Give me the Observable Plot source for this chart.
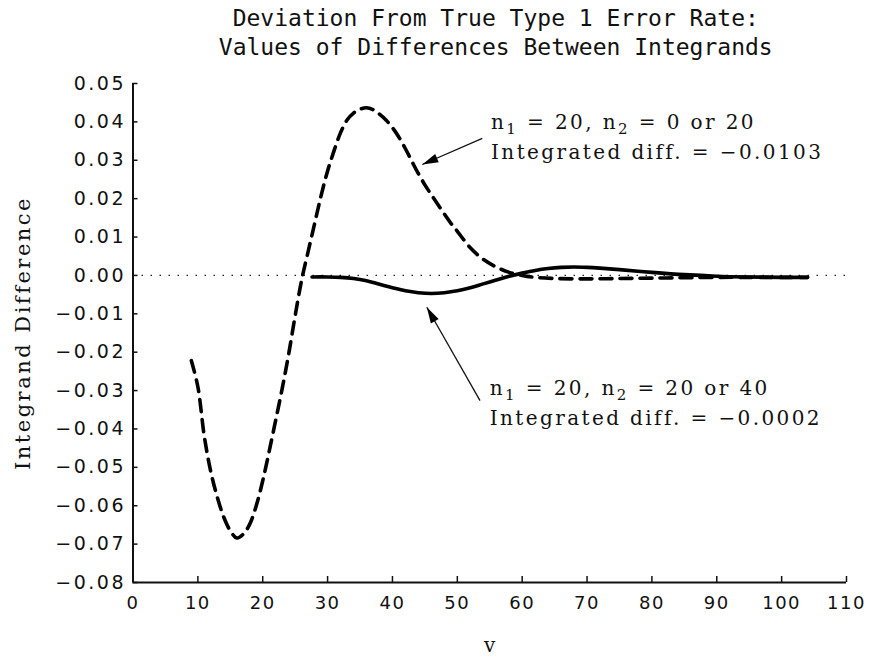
<!DOCTYPE html>
<html>
<head>
<meta charset="utf-8">
<script src="https://cdn.jsdelivr.net/npm/d3@7"></script>
<script src="https://cdn.jsdelivr.net/npm/@observablehq/plot@0.6"></script>
<style>
  html, body { margin: 0; padding: 0; background: #fff; }
</style>
</head>
<body>
<div id="chart"></div>
<script>
// ---- data ----
const titleLines = ["Deviation From True Type 1 Error Rate:", "Values of Differences Between Integrands"];
const xLabel = "v";
const yLabel = "Integrand Difference";
const xTicks = [0, 10, 20, 30, 40, 50, 60, 70, 80, 90, 100, 110];
const yTicks = [0.05, 0.04, 0.03, 0.02, 0.01, 0.00, -0.01, -0.02, -0.03, -0.04, -0.05, -0.06, -0.07, -0.08];

// n1 = 20, n2 = 0 or 20 (dashed)
const dashedV = [9, 10, 11, 12, 13, 14, 15, 16, 17, 18, 19, 20, 21, 22, 23, 24, 25, 26, 27, 28, 29, 30,
  31, 32, 33, 34, 35, 36, 37, 38, 39, 40, 41, 42, 43, 44, 45, 46, 47, 48, 49, 50, 52, 54, 56, 58, 60,
  62, 65, 70, 75, 80, 85, 90, 95, 100, 104];
const dashedY = [-0.0222, -0.0290, -0.0420, -0.0512, -0.0578, -0.0630, -0.0665, -0.0684, -0.0674, -0.0648,
  -0.0600, -0.0535, -0.0458, -0.0377, -0.0295, -0.0205, -0.0105, -0.0012, 0.0062, 0.0135, 0.0208, 0.0272,
  0.0325, 0.0372, 0.0405, 0.0423, 0.0433, 0.0437, 0.0432, 0.0420, 0.0405, 0.0385, 0.0360, 0.0330, 0.0297,
  0.0265, 0.0236, 0.0210, 0.0185, 0.0160, 0.0136, 0.0115, 0.0072, 0.0042, 0.0022, 0.0008, 0.0000,
  -0.0005, -0.0008, -0.0009, -0.0008, -0.0007, -0.0006, -0.0005, -0.0005, -0.0005, -0.0005];

// n1 = 20, n2 = 20 or 40 (solid)
const solidV = [27.6, 30, 32, 34, 36, 38, 40, 42, 44, 46, 48, 50, 52, 54, 56, 58, 60, 62, 64, 66, 68, 70,
  72, 75, 80, 85, 90, 95, 100, 104];
const solidY = [-0.0004, -0.0004, -0.0005, -0.0008, -0.0014, -0.0023, -0.0032, -0.0040, -0.0045, -0.0047,
  -0.0045, -0.0040, -0.0032, -0.0022, -0.0012, -0.0002, 0.0006, 0.0013, 0.0018, 0.0021, 0.0022, 0.0021,
  0.0019, 0.0015, 0.0008, 0.0002, -0.0002, -0.0004, -0.0005, -0.0005];

const annotText = ["n1 = 20, n2 = 0 or 20", "Integrated diff. = \u22120.0103",
                   "n1 = 20, n2 = 20 or 40", "Integrated diff. = \u22120.0002"];
const annotX = [55.2, 55.2, 55.0, 55.0];
const annotY = [0.0398, 0.0320, -0.0295, -0.0373];

const arrowX1 = [53.85, 53.5];
const arrowY1 = [0.0357, -0.0326];
const arrowX2 = [44.6, 45.3];
const arrowY2 = [0.0289, -0.0083];

// ---- layout ----
const W = 870, H = 658, mL = 132.5, mR = 24, mT = 83, mB = 76;
const xDom = [0, 110], yDom = [-0.08, 0.05];
const px = x => mL + (x - xDom[0]) / (xDom[1] - xDom[0]) * (W - mL - mR);
const py = y => mT + (yDom[1] - y) / (yDom[1] - yDom[0]) * (H - mT - mB);

const dashed = dashedV.map((v, i) => ({v, y: dashedY[i]}));
const solid = solidV.map((v, i) => ({v, y: solidY[i]}));
const annots = annotText.map((t, i) => ({t, x: annotX[i], y: annotY[i]}));
const arrows = arrowX1.map((x1, i) => {
  const dx = px(arrowX2[i]) - px(x1), dy = py(arrowY2[i]) - py(arrowY1[i]);
  return {x1, y1: arrowY1[i], x2: arrowX2[i], y2: arrowY2[i], rot: Math.atan2(dy, dx) * 180 / Math.PI + 90};
});

// narrow filled arrowhead, tip at origin pointing up
const headSymbol = {
  draw(context, size) {
    const L = 16, w = 9;
    context.moveTo(0, 0);
    context.lineTo(-w / 2, L);
    context.lineTo(w / 2, L);
    context.closePath();
  }
};

const fmtY = d => (d < 0 ? "\u2212" : "") + Math.abs(d).toFixed(2);
const sans = "DejaVu Sans, sans-serif";
const serif = "DejaVu Serif, serif";
const mono = "DejaVu Sans Mono, monospace";

const plot = Plot.plot({
  width: W, height: H,
  marginLeft: mL, marginRight: mR, marginTop: mT, marginBottom: mB,
  x: {domain: xDom},
  y: {domain: yDom},
  style: {background: "#fff", color: "#111", overflow: "visible"},
  marks: [
    // zero reference (dotted)
    Plot.ruleY([0], {x1: xDom[0], x2: xDom[1], stroke: "#222", strokeWidth: 1.3, strokeDasharray: "1.5,7.5"}),
    // axes lines
    Plot.ruleX([xDom[0]], {y1: yDom[0], y2: yDom[1], stroke: "#111", strokeWidth: 2}),
    Plot.ruleY([yDom[0]], {x1: xDom[0], x2: xDom[1], stroke: "#111", strokeWidth: 2}),
    // inward ticks
    Plot.ruleY(yTicks, {x1: xDom[0], x2: xDom[0] + 5 / ((W - mL - mR) / 110), stroke: "#111", strokeWidth: 1.5}),
    Plot.ruleX(xTicks, {y1: yDom[0], y2: yDom[0] + 6 / ((H - mT - mB) / 0.13), stroke: "#111", strokeWidth: 1.5}),
    // tick labels
    Plot.axisY(yTicks, {tickSize: 0, tickPadding: 7, tickFormat: fmtY, label: null, fontSize: 19, fontFamily: sans}),
    Plot.axisX(xTicks, {tickSize: 0, tickPadding: 14, tickFormat: d => String(d), label: null, fontSize: 18, fontFamily: sans}),
    // curves
    Plot.line(dashed, {x: "v", y: "y", stroke: "#000", strokeWidth: 3.6, strokeDasharray: "12,8", curve: "catmull-rom"}),
    Plot.line(solid, {x: "v", y: "y", stroke: "#000", strokeWidth: 3.6, curve: "catmull-rom"}),
    // annotations
    Plot.link(arrows, {x1: "x1", y1: "y1", x2: "x2", y2: "y2", stroke: "#111", strokeWidth: 1.3}),
    Plot.dot(arrows, {x: "x2", y: "y2", rotate: "rot", symbol: headSymbol, fill: "#000", stroke: "none", r: 1}),
    Plot.text(annots, {x: "x", y: "y", text: "t", textAnchor: "start", lineAnchor: "middle", fontSize: 20, fontFamily: serif, fill: "#111"}),
    // titles
    Plot.text([titleLines[0]], {frameAnchor: "top", dx: 6, dy: -65, lineAnchor: "middle", fontSize: 23, fontFamily: mono, fill: "#111"}),
    Plot.text([titleLines[1]], {frameAnchor: "top", dx: 6, dy: -36, lineAnchor: "middle", fontSize: 23, fontFamily: mono, fill: "#111"}),
    // axis labels
    Plot.text([xLabel], {frameAnchor: "bottom", dy: 63, lineAnchor: "middle", fontSize: 20, fontFamily: serif, fill: "#111"}),
    Plot.text([yLabel], {frameAnchor: "left", dx: -110, rotate: -90, textAnchor: "middle", lineAnchor: "middle", fontSize: 21, fontFamily: serif, fill: "#111"})
  ]
});

// letter spacing and subscripts to match the reference lettering
const ns = "http://www.w3.org/2000/svg";
const yTickStrings = new Set(yTicks.map(fmtY));
const xTickStrings = new Set(xTicks.map(String));
d3.select(plot).selectAll("text").each(function() {
  const t = this.textContent;
  if (annotText.includes(t)) {
    this.style.letterSpacing = "2.4px";
    if (/n[12]/.test(t)) {
      // rebuild with lowered subscripts
      this.textContent = "";
      const parts = t.split(/(n[12])/).filter(s => s.length);
      let pendingDy = 0;
      for (const p of parts) {
        if (/^n[12]$/.test(p)) {
          const a = document.createElementNS(ns, "tspan");
          a.textContent = "n";
          if (pendingDy) { a.setAttribute("dy", String(pendingDy)); pendingDy = 0; }
          this.appendChild(a);
          const b = document.createElementNS(ns, "tspan");
          b.textContent = p[1]; b.setAttribute("dy", "5"); b.setAttribute("font-size", "15");
          this.appendChild(b);
          pendingDy = -5;
        } else {
          const s = document.createElementNS(ns, "tspan");
          s.textContent = p;
          if (pendingDy) { s.setAttribute("dy", String(pendingDy)); pendingDy = 0; }
          this.appendChild(s);
        }
      }
    }
  }
  else if (t === yLabel) this.style.letterSpacing = "2.5px";
  else if (yTickStrings.has(t)) this.style.letterSpacing = "2.5px";
  else if (xTickStrings.has(t)) this.style.letterSpacing = "1.5px";
});
document.getElementById("chart").appendChild(plot);
</script>
</body>
</html>
